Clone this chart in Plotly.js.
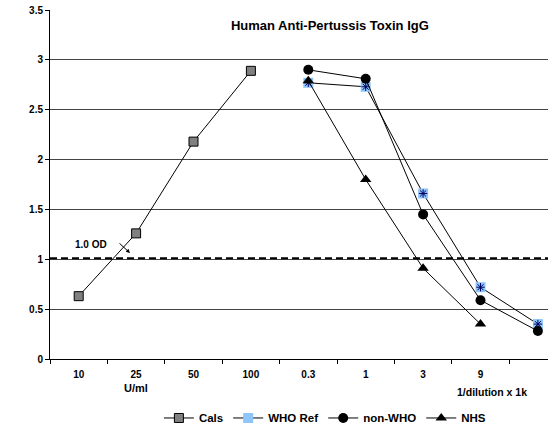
<!DOCTYPE html>
<html>
<head>
<meta charset="utf-8">
<script src="https://cdn.plot.ly/plotly-3.0.1.min.js"></script>
<style>html,body{margin:0;padding:0;background:#fff;overflow:hidden;}</style>
</head>
<body>
<div id="chart" style="width:548px;height:428px;"></div>
<script>
const categories = ['10','25','50','100','0.3','1','3','9',' '];
const calsX = ['10','25','50','100'];
const calsY = [0.63, 1.26, 2.18, 2.89];
const dilX = ['0.3','1','3','9',' '];
const whoRefY = [2.77, 2.73, 1.66, 0.72, 0.35];
const nonWhoY = [2.90, 2.81, 1.45, 0.59, 0.28];
const nhsX = ['0.3','1','3','9'];
const nhsY = [2.79, 1.80, 0.91, 0.35];
const odLevel = 1.01;

const F = 'Liberation Sans, Arial, sans-serif';
const lineStyle = {color:'#000', width:1};

const traces = [
  {name:'Cals', x:calsX, y:calsY, type:'scatter', mode:'lines+markers', line:lineStyle,
   marker:{symbol:'square', size:9, color:'#808080', line:{color:'#000', width:1}}},
  {name:'WHO Ref', x:dilX, y:whoRefY, type:'scatter', mode:'lines+markers', line:lineStyle, legendgroup:'who',
   marker:{symbol:'square', size:10, color:'#8ec5fa', line:{color:'#8ec5fa', width:0}}},
  {name:'WHO Ref', x:dilX, y:whoRefY, type:'scatter', mode:'markers', legendgroup:'who', showlegend:false,
   marker:{symbol:'asterisk-open', size:7, color:'#000060', line:{color:'#000060', width:1}}},
  {name:'non-WHO', x:dilX, y:nonWhoY, type:'scatter', mode:'lines+markers', line:lineStyle,
   marker:{symbol:'circle', size:10, color:'#000'}},
  {name:'NHS', x:nhsX, y:nhsY, type:'scatter', mode:'lines+markers', line:lineStyle,
   marker:{symbol:'triangle-up', size:10, color:'#000'}}
];

const layout = {
  width:548, height:428,
  margin:{l:50, r:0, t:10, b:69, autoexpand:false},
  paper_bgcolor:'#fff', plot_bgcolor:'#fff',
  font:{family:F, color:'#000'},
  showlegend:true,
  title:{text:'<b>Human Anti-Pertussis Toxin IgG</b>', font:{size:13, family:F, color:'#000'},
         x:0.562, xref:'paper', xanchor:'center', y:1-25/428, yref:'container', yanchor:'middle'},
  xaxis:{type:'category', categoryorder:'array', categoryarray:categories,
         range:[-0.5, 8.176], tickson:'boundaries', ticks:'outside', ticklen:4, tickcolor:'#000',
         ticklabelstandoff:6,
         showline:true, linecolor:'#000', linewidth:1, showgrid:false, zeroline:false, automargin:false,
         tickfont:{size:10, family:F, color:'#000', weight:'bold'}, fixedrange:true},
  yaxis:{range:[0,3.5], dtick:0.5, tick0:0, ticks:'outside', ticklen:4, tickcolor:'#000',
         showline:true, linecolor:'#000', linewidth:1, showgrid:true, gridcolor:'#444', gridwidth:1,
         zeroline:false, automargin:false, tickfont:{size:10, family:F, color:'#000', weight:'bold'}, fixedrange:true},
  legend:{orientation:'h', x:0.552, xanchor:'center', y:-0.169, yanchor:'middle',
          font:{size:11.5, family:F, color:'#000', weight:'bold'}, itemwidth:30, tracegroupgap:0},
  shapes:[{type:'line', xref:'paper', x0:0, x1:1, yref:'y', y0:odLevel, y1:odLevel,
           line:{color:'#000', width:2, dash:'7px,4px'}}],
  annotations:[
    {text:'<b>1.0 OD</b>', x:0.214, y:1.153, xref:'x', yref:'y', showarrow:false,
     font:{size:10, family:F, color:'#000'}},
    {text:'', x:0.894, y:1.063, xref:'x', yref:'y', showarrow:true, ax:-12, ay:-11,
     arrowhead:2, arrowsize:0.8, arrowwidth:1, arrowcolor:'#000', standoff:0, startstandoff:0},
    {text:'<b>U/ml</b>', x:1, y:(359-388)/349, xref:'x', yref:'paper', yanchor:'middle', showarrow:false,
     font:{size:11, family:F, color:'#000'}},
    {text:'<b>1/dilution x 1k</b>', x:7.2, y:(359-392)/349, xref:'x', yref:'paper', yanchor:'middle', showarrow:false,
     font:{size:10.5, family:F, color:'#000'}}
  ]
};

Plotly.newPlot('chart', traces, layout, {staticPlot:true, displayModeBar:false});
</script>
</body>
</html>
